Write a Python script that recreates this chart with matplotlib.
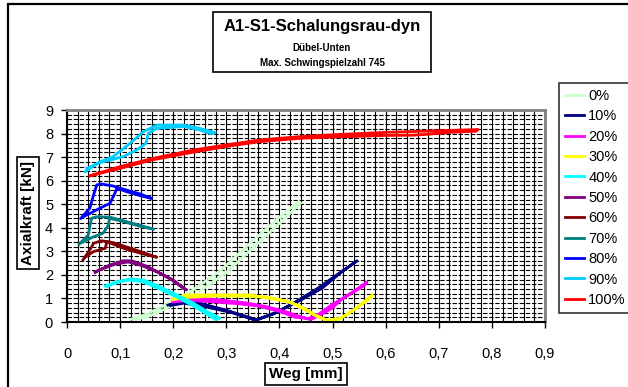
import matplotlib
matplotlib.use("Agg")
import matplotlib.pyplot as plt
from matplotlib.patches import Rectangle
from matplotlib.ticker import MultipleLocator, FuncFormatter

plt.rcParams['font.family'] = ['Liberation Sans', 'DejaVu Sans']

# Hysteresis loops per load level: out path then return path (Weg [mm], Axialkraft [kN])
labels = ['0%', '10%', '20%', '30%', '40%', '50%', '60%', '70%', '80%', '90%', '100%']
colors = ['#CCFFCC', '#000080', '#FF00FF', '#FFFF00', '#00FFFF', '#800080',
          '#800000', '#008080', '#0000FF', '#00CCFF', '#FF0000']

weg_00 = [0.125, 0.15, 0.175, 0.24, 0.30, 0.36, 0.41, 0.44,
          0.435, 0.40, 0.35, 0.29, 0.23, 0.17, 0.14, 0.12]
kraft_00 = [0.11, 0.20, 0.45, 1.15, 2.10, 3.35, 4.40, 5.05,
            5.10, 4.45, 3.45, 2.20, 1.25, 0.55, 0.25, 0.12]

weg_10 = [0.19, 0.22, 0.25, 0.30, 0.357, 0.395, 0.44, 0.48, 0.514, 0.546,
          0.54, 0.505, 0.47, 0.43, 0.39, 0.355, 0.31, 0.26, 0.22, 0.195]
kraft_10 = [0.72, 0.93, 0.80, 0.50, 0.10, 0.42, 0.93, 1.43, 2.07, 2.60,
            2.50, 1.95, 1.40, 0.85, 0.35, 0.07, 0.40, 0.65, 0.80, 0.70]

weg_20 = [0.20, 0.215, 0.25, 0.28, 0.31, 0.34, 0.376, 0.41, 0.43, 0.458, 0.476, 0.50, 0.515, 0.54, 0.565,
          0.56, 0.53, 0.50, 0.475, 0.455, 0.43, 0.40, 0.36, 0.32, 0.28, 0.23, 0.20]
kraft_20 = [0.88, 1.00, 0.98, 0.96, 0.88, 0.80, 0.65, 0.45, 0.30, 0.10, 0.28, 0.60, 0.93, 1.30, 1.70,
            1.55, 1.15, 0.75, 0.35, 0.15, 0.20, 0.45, 0.68, 0.78, 0.85, 0.92, 0.85]

weg_30 = [0.20, 0.225, 0.25, 0.30, 0.345, 0.376, 0.41, 0.432, 0.464, 0.49, 0.515, 0.545, 0.575,
          0.57, 0.54, 0.51, 0.49, 0.47, 0.45, 0.42, 0.38, 0.33, 0.28, 0.23, 0.20]
kraft_30 = [1.00, 1.15, 1.15, 1.15, 1.15, 1.02, 0.90, 0.72, 0.32, 0.08, 0.16, 0.60, 1.15,
            1.00, 0.50, 0.08, 0.05, 0.25, 0.55, 0.85, 1.05, 1.10, 1.10, 1.05, 0.95]

weg_40 = [0.072, 0.094, 0.12, 0.145, 0.175, 0.207, 0.238, 0.263, 0.288,
          0.28, 0.26, 0.235, 0.205, 0.17, 0.14, 0.115, 0.09, 0.075]
kraft_40 = [1.53, 1.71, 1.83, 1.78, 1.50, 1.15, 0.80, 0.45, 0.16,
            0.10, 0.38, 0.72, 1.08, 1.45, 1.72, 1.78, 1.65, 1.50]

weg_50 = [0.053, 0.08, 0.106, 0.122, 0.15, 0.175, 0.20, 0.225,
          0.22, 0.195, 0.17, 0.14, 0.115, 0.09, 0.06, 0.053]
kraft_50 = [2.11, 2.42, 2.60, 2.60, 2.37, 2.08, 1.78, 1.36,
            1.42, 1.82, 2.12, 2.40, 2.55, 2.45, 2.20, 2.13]

weg_60 = [0.03, 0.043, 0.05, 0.065, 0.087, 0.125, 0.169,
          0.15, 0.11, 0.075, 0.072, 0.05, 0.034]
kraft_60 = [2.63, 3.06, 3.34, 3.45, 3.37, 3.09, 2.75,
            2.85, 3.10, 3.41, 3.13, 2.99, 2.75]

weg_70 = [0.023, 0.04, 0.046, 0.056, 0.081, 0.112, 0.163,
          0.14, 0.10, 0.08, 0.078, 0.068, 0.05, 0.028]
kraft_70 = [3.31, 3.69, 4.40, 4.47, 4.45, 4.26, 3.94,
            4.05, 4.30, 4.40, 4.12, 3.77, 3.62, 3.37]

weg_80 = [0.026, 0.043, 0.05, 0.056, 0.065, 0.087, 0.112, 0.137, 0.159,
          0.14, 0.11, 0.094, 0.09, 0.081, 0.062, 0.031]
kraft_80 = [4.40, 4.83, 5.39, 5.82, 5.86, 5.77, 5.60, 5.44, 5.25,
            5.35, 5.55, 5.68, 5.46, 5.04, 4.83, 4.47]

weg_90 = [0.034, 0.062, 0.087, 0.119, 0.144, 0.169, 0.219, 0.25, 0.279,
          0.27, 0.25, 0.22, 0.169, 0.153, 0.149, 0.131, 0.106, 0.06, 0.037]
kraft_90 = [6.38, 6.80, 7.02, 7.59, 8.08, 8.36, 8.36, 8.22, 8.04,
            8.00, 8.15, 8.30, 8.22, 8.01, 7.59, 7.30, 7.02, 6.75, 6.52]

weg_100 = [0.043, 0.10, 0.163, 0.238, 0.30, 0.363, 0.439, 0.50, 0.60, 0.70, 0.774,
           0.77, 0.72, 0.68, 0.65, 0.60, 0.50, 0.44, 0.36, 0.30, 0.24, 0.16, 0.10, 0.045]
kraft_100 = [6.20, 6.60, 6.95, 7.30, 7.52, 7.73, 7.87, 7.95, 8.05, 8.12, 8.17,
             8.10, 8.05, 7.97, 7.93, 7.92, 7.85, 7.80, 7.65, 7.45, 7.22, 6.88, 6.52, 6.22]

series = [(weg_00, kraft_00), (weg_10, kraft_10), (weg_20, kraft_20), (weg_30, kraft_30),
          (weg_40, kraft_40), (weg_50, kraft_50), (weg_60, kraft_60), (weg_70, kraft_70),
          (weg_80, kraft_80), (weg_90, kraft_90), (weg_100, kraft_100)]

fig = plt.figure(figsize=(6.28, 3.87), dpi=100)
fig.patch.set_facecolor('white')

# outer chart border (only left and top edges fall inside the picture)
fig.add_artist(Rectangle((8 / 628, -0.05), 0.995, 1.05 - 4 / 387, transform=fig.transFigure,
                         fill=False, ec='black', lw=1.6))

ax = fig.add_axes([67 / 628, (387 - 322) / 387, 478 / 628, 212 / 387])
ax.set_xlim(0, 0.9)
ax.set_ylim(0, 9)

# dense Excel-style gridlines
ax.xaxis.set_major_locator(MultipleLocator(0.1))
ax.xaxis.set_minor_locator(MultipleLocator(0.02))
ax.yaxis.set_major_locator(MultipleLocator(1))
ax.yaxis.set_minor_locator(MultipleLocator(0.2))
ax.xaxis.set_major_formatter(FuncFormatter(lambda v, p: ('%g' % round(v, 2)).replace('.', ',')))
ax.grid(which='both', axis='x', color='black', lw=0.8)
ax.grid(which='both', axis='y', color='black', lw=0.8, ls=(0, (4, 1.5)))
ax.set_axisbelow(True)
ax.tick_params(which='minor', length=0)
ax.tick_params(which='major', direction='out', length=4, width=1, labelsize=10.5, pad=14)
ax.tick_params(axis='y', pad=6)

for sp in ['top', 'right']:
    ax.spines[sp].set_color('#808080')
    ax.spines[sp].set_linewidth(2)
for sp in ['left', 'bottom']:
    ax.spines[sp].set_color('black')
    ax.spines[sp].set_linewidth(1.5)

for (xs, ys), c, lab in zip(series, colors, labels):
    ax.plot(xs, ys, color=c, lw=2, label=lab, solid_joinstyle='round')

box = dict(boxstyle='square,pad=0.25', fc='white', ec='black', lw=1.2)
fig.text(306 / 628, 1 - 374 / 387, 'Weg [mm]', ha='center', va='center',
         fontsize=11, fontweight='bold', bbox=box)
fig.text(28 / 628, 1 - 213 / 387, 'Axialkraft [kN]', ha='center', va='center',
         rotation=90, fontsize=11, fontweight='bold', bbox=box)

# title box
fig.add_artist(Rectangle((213 / 628, 1 - 72 / 387), 218 / 628, 60 / 387, transform=fig.transFigure,
                         fill=False, ec='black', lw=1.2))
fig.text(322 / 628, 1 - 26 / 387, 'A1-S1-Schalungsrau-dyn', ha='center', va='center',
         fontsize=12, fontweight='bold')
fig.text(322 / 628, 1 - 48 / 387, 'Dübel-Unten', ha='center', va='center',
         fontsize=7, fontweight='bold')
fig.text(322 / 628, 1 - 63 / 387, 'Max. Schwingspielzahl 745', ha='center', va='center',
         fontsize=7, fontweight='bold')

leg = fig.legend(loc='upper left', bbox_to_anchor=(559 / 628, 1 - 83 / 387),
                 fontsize=10.5, frameon=True, fancybox=False, handlelength=1.3,
                 handletextpad=0.3, labelspacing=0.44, borderpad=0.4, borderaxespad=0)
leg.get_frame().set_edgecolor('black')
leg.get_frame().set_linewidth(1.2)
for h in leg.get_lines():
    h.set_linewidth(2)

fig.savefig('out.png', dpi=100)
